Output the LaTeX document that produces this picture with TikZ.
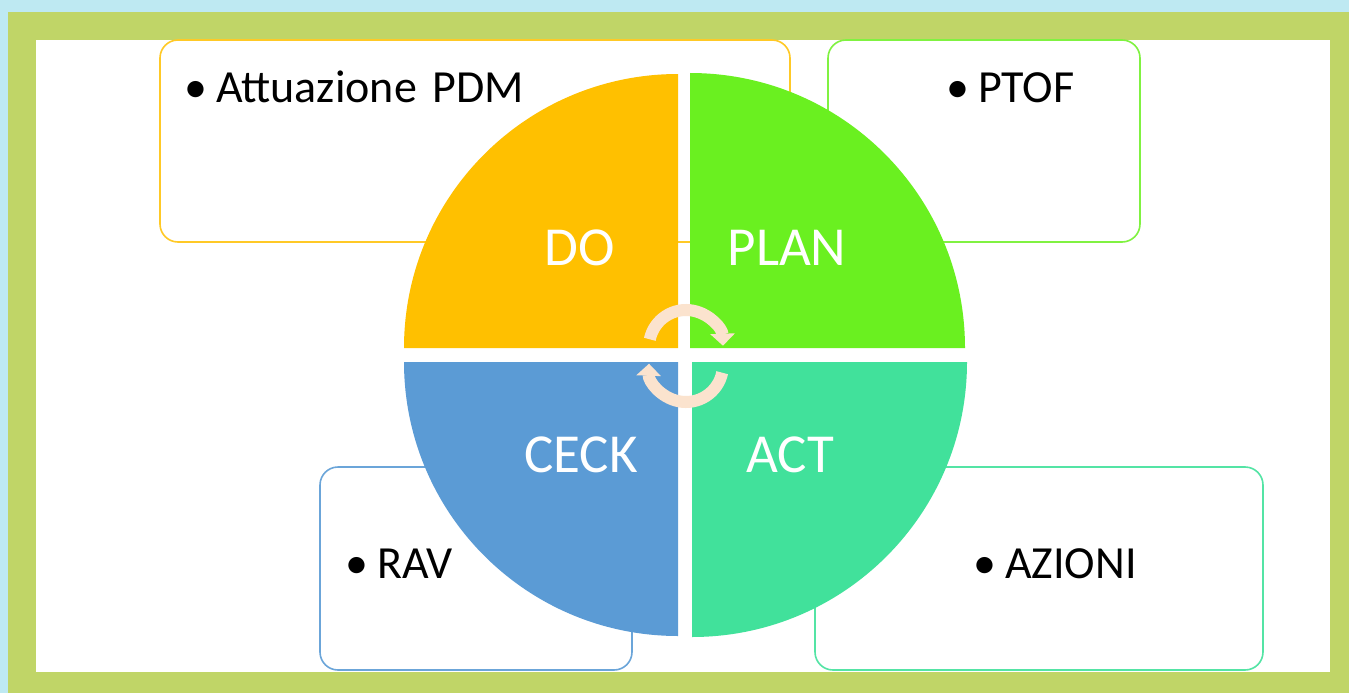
\documentclass[tikz,border=0pt]{standalone}
\usepackage{fontspec}
\setmainfont{Carlito}
\usetikzlibrary{arrows.meta}
\definecolor{bgcyan}{HTML}{BEE9F2}
\definecolor{frame}{HTML}{C0D567}
\definecolor{docol}{HTML}{FFC000}
\definecolor{plancol}{HTML}{6AF020}
\definecolor{ceckcol}{HTML}{5B9BD5}
\definecolor{actcol}{HTML}{41E19B}
\definecolor{peach}{HTML}{FBE3CE}
\tikzset{
  box/.style={draw=#1, line width=1.6pt, rounded corners=18pt, fill=white, inner sep=0pt},
  boxtext/.style={anchor=base west, inner sep=0pt, font=\fontsize{46}{52}\selectfont, text=black},
  qlabel/.style={anchor=base, inner sep=0pt, font=\fontsize{55}{60}\selectfont, text=white},
  cyclearrow/.style={draw=peach, line width=12pt, -{Triangle[width=24pt,length=12pt]}}
}
\begin{document}
\begin{tikzpicture}[x=1pt,y=1pt]
\useasboundingbox (0,0) rectangle (1349,-693);
% background and frame
\fill[bgcyan] (0,0) rectangle (1349,-693);
\fill[frame] (8,-12) rectangle (1349,-693);
\fill[white] (36,-40) rectangle (1330,-672);
% boxes
\node[box=docol!85, minimum width=630pt, minimum height=202pt] (bdo) at (475,-141) {};
\node[box=plancol!85, minimum width=312pt, minimum height=202pt] (bplan) at (984,-141) {};
\node[box=ceckcol!90, minimum width=312pt, minimum height=203pt] (bceck) at (476,-568.5) {};
\node[box=actcol!90, minimum width=448pt, minimum height=203pt] (bact) at (1039,-568.5) {};
% quadrants
\fill[docol] (678,-348) -- (404,-348) arc[start angle=180, end angle=90, radius=274] -- cycle;
\fill[plancol] (690,-348) -- (965,-348) arc[start angle=0, end angle=90, radius=275] -- cycle;
\fill[ceckcol] (678,-362) -- (404,-362) arc[start angle=180, end angle=270, radius=274] -- cycle;
\fill[actcol] (692,-362) -- (967,-362) arc[start angle=0, end angle=-90, radius=275] -- cycle;
% cycle arrows
\draw[cyclearrow] (686,-347) ++(168:37) arc[start angle=168, end angle=2, radius=37];
\draw[cyclearrow] (686,-365) ++(-12:37) arc[start angle=-12, end angle=-182, radius=37];
% quadrant labels
\node[qlabel] (ldo) at (580,-265) {DO};
\node[qlabel] (lplan) at (787,-265) {PLAN};
\node[qlabel] (lceck) at (581,-472) {CECK};
\node[qlabel] (lact) at (790,-472) {ACT};
% box texts
\node[boxtext] (tdo) at (184,-102) {•\hspace{9pt}Attuazione\hspace{16pt}PDM};
\node[boxtext] (tplan) at (946,-102) {•\hspace{9pt}PTOF};
\node[boxtext] (tceck) at (345,-578) {•\hspace{9pt}RAV};
\node[boxtext] (tact) at (973,-578) {•\hspace{9pt}AZIONI};
\end{tikzpicture}
\end{document}
